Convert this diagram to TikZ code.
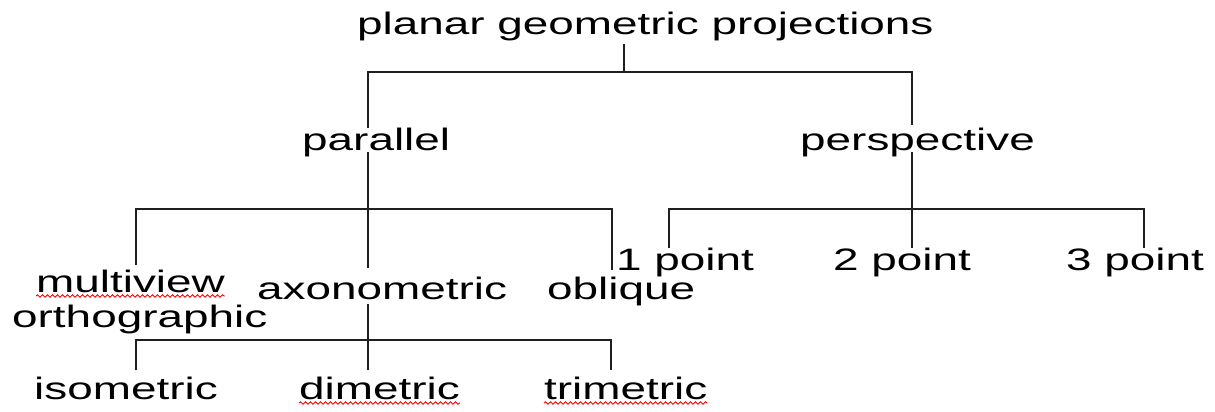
\documentclass[tikz,border=0pt]{standalone}
\usepackage{fontspec}
\setmainfont{Liberation Sans}[FakeStretch=1.48]
\usetikzlibrary{decorations.pathmorphing}
\begin{document}
\begin{tikzpicture}[x=1pt,y=-1pt,
  lbl/.style={inner sep=0pt, anchor=base west, font=\fontsize{31}{36}\selectfont, text=black},
  link/.style={draw=black!88, line width=1.4pt},
  spell/.style={draw=red, line width=0.9pt, decorate,
    decoration={snake, segment length=5pt, amplitude=1.2pt}}]
\useasboundingbox (0,0) rectangle (1215,412);
% labels
\node[lbl] (pgp)  at (357,35)  {planar geometric projections};
\node[lbl] (par)  at (302,150) {parallel};
\node[lbl] (per)  at (800,150) {perspective};
\node[lbl] (mv)   at (36,292)  {multiview};
\node[lbl] (orth) at (12,327)  {orthographic};
\node[lbl] (axo)  at (257,299) {axonometric};
\node[lbl] (obl)  at (547,299) {oblique};
\node[lbl] (p1)   at (616,270) {1 point};
\node[lbl] (p2)   at (833,270) {2 point};
\node[lbl] (p3)   at (1066,270) {3 point};
\node[lbl] (iso)  at (34,399)  {isometric};
\node[lbl] (dim)  at (299,399) {dimetric};
\node[lbl] (tri)  at (544,399) {trimetric};
% connector end points
\coordinate (pgpB) at (624,44);
\coordinate (j1)   at (624,72);
\coordinate (parT) at (368,128);
\coordinate (perT) at (912,125);
\coordinate (parB) at (368,152);
\coordinate (j2)   at (368,209);
\coordinate (mvT)  at (136,265);
\coordinate (axoT) at (368,268);
\coordinate (oblT) at (612,270);
\coordinate (perB) at (912,152);
\coordinate (j3)   at (912,209);
\coordinate (p1T)  at (669,248);
\coordinate (p2T)  at (912,248);
\coordinate (p3T)  at (1144,248);
\coordinate (axoB) at (368,304);
\coordinate (j4)   at (368,340);
\coordinate (isoT) at (136,370);
\coordinate (dimT) at (368,370);
\coordinate (triT) at (611,370);
% connectors
\draw[link] (pgpB) -- (j1);
\draw[link] (parT) |- (j1) -| (perT);
\draw[link] (parB) -- (j2) -- (axoT);
\draw[link] (mvT) |- (j2) -| (oblT);
\draw[link] (perB) -- (j3) -- (p2T);
\draw[link] (p1T) |- (j3) -| (p3T);
\draw[link] (axoB) -- (j4) -- (dimT);
\draw[link] (isoT) |- (j4) -| (triT);
% spelling marks
\draw[spell] ([yshift=-4pt]mv.base west) -- ([yshift=-4pt]mv.base east);
\draw[spell] ([yshift=-4pt]dim.base west) -- ([yshift=-4pt]dim.base east);
\draw[spell] ([yshift=-4pt]tri.base west) -- ([yshift=-4pt]tri.base east);
\end{tikzpicture}
\end{document}
